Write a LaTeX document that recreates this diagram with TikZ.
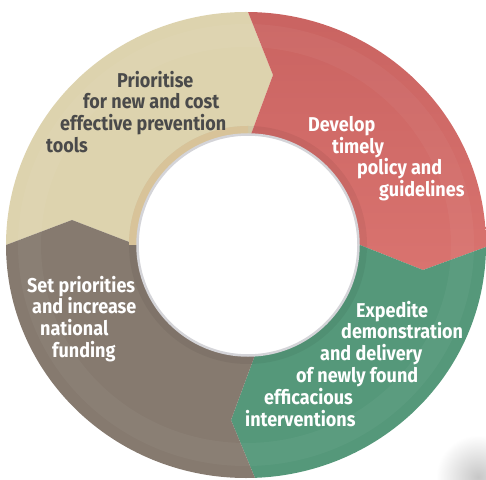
\documentclass[tikz,border=0pt]{standalone}
\usepackage{fontspec}
\setmainfont{Fira Sans}
\newfontfamily\lblfont{Fira Sans}[FakeStretch=0.9,BoldFeatures={FakeStretch=0.9}]
\definecolor{beige}{HTML}{DDD3AE}
\definecolor{redtop}{HTML}{C86260}
\definecolor{redbot}{HTML}{D9736F}
\definecolor{greenc}{HTML}{55987A}
\definecolor{brownc}{HTML}{867A6F}
\definecolor{tan}{HTML}{D8C399}
\definecolor{txtdark}{HTML}{4A4A4A}
\definecolor{rimgrey}{HTML}{D4D4D8}
\tikzset{
  lbl/.style={anchor=mid west, inner sep=0pt, font=\lblfont\bfseries\fontsize{20}{20}\selectfont},
  dark/.style={lbl, text=txtdark},
  light/.style={lbl, text=white}
}
\begin{document}
\begin{tikzpicture}[x=1pt,y=1pt]
\useasboundingbox (0,0) rectangle (486,479);
% faint grey blob bottom right
\begin{scope}
\clip (0,0) rectangle (486,479);
\shade[inner color=black!22, outer color=white] (478,2) circle (42);
\end{scope}
% ring segments
\coordinate (C) at (248,234);
\begin{scope}
\clip (246,234) ellipse [x radius=240, y radius=233];
\fill[beige] (C) -- (137,234) -- (72,259) -- (6,234) -- (-10,228) -- (-10,489) -- (240,489) -- (248,467) -- (273,404) -- (250,342) -- cycle;
\shade[top color=redtop, bottom color=redbot] (C) -- (250,342) -- (273,404) -- (248,467) -- (240,489) -- (500,489) -- (500,237) -- (486,232) -- (423,209) -- (360,234) -- cycle;
\fill[greenc] (C) -- (360,234) -- (423,209) -- (486,232) -- (500,237) -- (500,-11) -- (260,-11) -- (255,1) -- (231,59) -- (255,124) -- cycle;
\fill[brownc] (C) -- (255,124) -- (231,59) -- (255,1) -- (260,-11) -- (-10,-11) -- (-10,228) -- (6,234) -- (72,259) -- (137,234) -- cycle;
% subtle concentric bands
\fill[white, opacity=0.04, even odd rule] (246,234) ellipse [x radius=228, y radius=221] (246,234) ellipse [x radius=205, y radius=198];
\fill[black, opacity=0.05, even odd rule] (C) circle (119) (C) circle (110);
\end{scope}
% tan ring in beige part
\fill[tan] (C) ++(180:119) arc (180:90:119) -- ++(0,-9) arc (90:180:110) -- cycle;
% inner hole
\fill[white] (C) circle (110);
\draw[rimgrey, line width=2.5pt] (C) circle (110.5);
% labels
\node[dark] (p1) at (117,394) {Prioritise};
\node[dark] (p2) at (83,373) {for new and cost};
\node[dark] (p3) at (60,351) {effective prevention};
\node[dark] (p4) at (46,329) {tools};
\node[light] (d1) at (308,350) {Develop};
\node[light] (d2) at (332,328) {timely};
\node[light] (d3) at (357,307) {policy and};
\node[light] (d4) at (379,285) {guidelines};
\node[light] (e1) at (356,164) {Expedite};
\node[light] (e2) at (341,143) {demonstration};
\node[light] (e3) at (320,121) {and delivery};
\node[light] (e4) at (296,99) {of newly found};
\node[light] (e5) at (264,77) {efficacious};
\node[light] (e6) at (245,55) {interventions};
\node[light] (s1) at (27,189) {Set priorities};
\node[light] (s2) at (32,168) {and increase};
\node[light] (s3) at (40,146) {national};
\node[light] (s4) at (52,124) {funding};
\end{tikzpicture}
\end{document}
